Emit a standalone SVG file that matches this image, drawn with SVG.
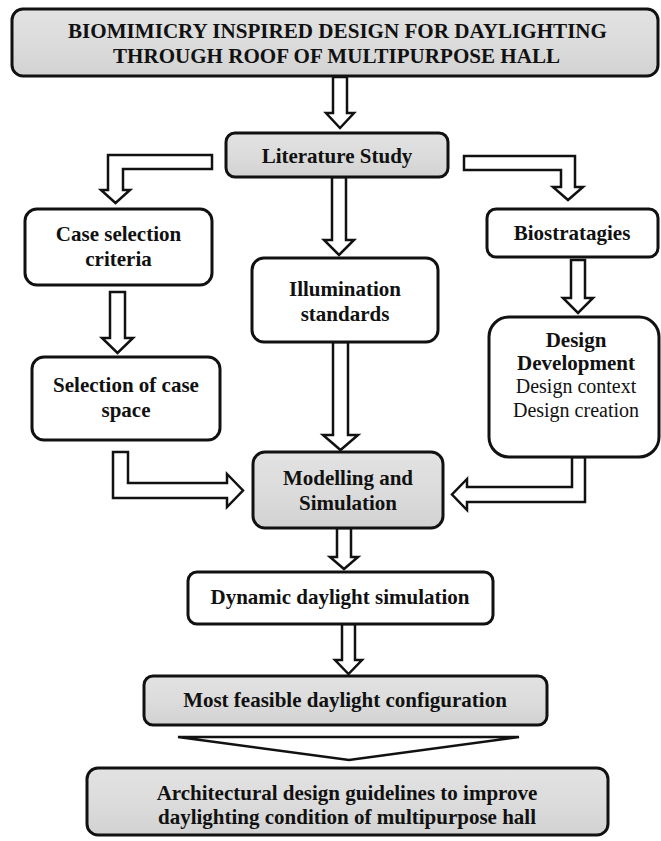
<svg xmlns="http://www.w3.org/2000/svg" width="661" height="841" viewBox="0 0 661 841">
<defs>
<linearGradient id="g" x1="0" y1="0" x2="0" y2="1">
<stop offset="0" stop-color="#e2e2e2"/>
<stop offset="0.5" stop-color="#dcdcdc"/>
<stop offset="1" stop-color="#d2d2d2"/>
</linearGradient>
<style>
.box{fill:#ffffff;stroke:#111;stroke-width:3}
.gray{fill:url(#g);stroke:#111;stroke-width:3}
.arr{fill:#ffffff;stroke:#111;stroke-width:2.5;stroke-linejoin:miter}
text{font-family:"Liberation Serif","Times New Roman",serif;fill:#111;text-anchor:middle}
.b{font-weight:bold;font-size:21px}
.r{font-size:20px}
</style>
</defs>
<rect width="661" height="841" fill="#ffffff"/>
<g id="connectors">
<polygon class="arr" points="333,77 347,77 347,113 354,113 340,128 326,113 333,113"/>
<polygon class="arr" points="212,155 212,169 123,169 123,190 130,190 115.5,203 101,190 108,190 108,155"/>
<polygon class="arr" points="464,156 575,156 575,187 583,187 568,200 553,187 561,187 561,170 464,170"/>
<polygon class="arr" points="332,177 346,177 346,240 354,240 339,255 324,240 332,240"/>
<polygon class="arr" points="110,292 125,292 125,338 133,338 117.5,353 102,338 110,338"/>
<polygon class="arr" points="571,260 585,260 585,298 593,298 578,313 563,298 571,298"/>
<polygon class="arr" points="333,342 348,342 348,435 358,435 340.5,450 323,435 333,435"/>
<polygon class="arr" points="113,452 128,452 128,483 227,483 227,474 243,490.5 227,507 227,498 113,498"/>
<polygon class="arr" points="585,457 585,502 467,502 467,510 452,494.5 467,479 467,487 572,487 572,457"/>
<polygon class="arr" points="337,528 351,528 351,557 358,557 344,569 330,557 337,557"/>
<polygon class="arr" points="342,624 355,624 355,660 362,660 348.5,674 335,660 342,660"/>
<polygon class="arr" points="178,737 519,737 349,760" stroke-width="3"/>
</g>
<g id="title">
<rect class="gray" x="12" y="9" width="646" height="67" rx="11"/>
<text class="b" x="337.5" y="38" textLength="539" lengthAdjust="spacingAndGlyphs">BIOMIMICRY INSPIRED DESIGN FOR DAYLIGHTING</text>
<text class="b" x="336.5" y="63" textLength="447" lengthAdjust="spacingAndGlyphs">THROUGH  ROOF OF MULTIPURPOSE HALL</text>
</g>
<g id="literature">
<rect class="gray" x="226" y="133" width="222" height="44" rx="9"/>
<text class="b" x="337" y="163">Literature Study</text>
</g>
<g id="case-criteria">
<rect class="box" x="25" y="209" width="187" height="76" rx="12"/>
<text class="b" x="118.5" y="241">Case selection</text>
<text class="b" x="118.5" y="266">criteria</text>
</g>
<g id="illumination">
<rect class="box" x="252" y="258" width="186" height="84" rx="12"/>
<text class="b" x="345" y="296">Illumination</text>
<text class="b" x="345" y="321">standards</text>
</g>
<g id="biostratagies">
<rect class="box" x="487" y="209" width="171" height="48" rx="9"/>
<text class="b" x="572" y="240">Biostratagies</text>
</g>
<g id="design-development">
<rect class="box" x="489" y="317" width="170" height="140" rx="20"/>
<text class="b" x="576" y="347">Design</text>
<text class="b" x="576" y="370">Development</text>
<text class="r" x="576" y="393">Design context</text>
<text class="r" x="576" y="417">Design creation</text>
</g>
<g id="case-space">
<rect class="box" x="32" y="357" width="188" height="83" rx="12"/>
<text class="b" x="126" y="392">Selection of case</text>
<text class="b" x="126" y="417">space</text>
</g>
<g id="modelling">
<rect class="gray" x="253" y="452" width="190" height="76" rx="12"/>
<text class="b" x="348" y="485">Modelling and</text>
<text class="b" x="348" y="510">Simulation</text>
</g>
<g id="dynamic">
<rect class="box" x="188" y="572" width="305" height="52" rx="9"/>
<text class="b" x="340" y="604">Dynamic daylight simulation</text>
</g>
<g id="feasible">
<rect class="gray" x="144" y="676" width="403" height="49" rx="9"/>
<text class="b" x="345" y="707">Most feasible daylight configuration</text>
</g>
<g id="guidelines">
<rect class="gray" x="87" y="768" width="521" height="67" rx="11"/>
<text class="b" x="347" y="800">Architectural design guidelines to improve</text>
<text class="b" x="347" y="824">daylighting condition of multipurpose hall</text>
</g>
</svg>
